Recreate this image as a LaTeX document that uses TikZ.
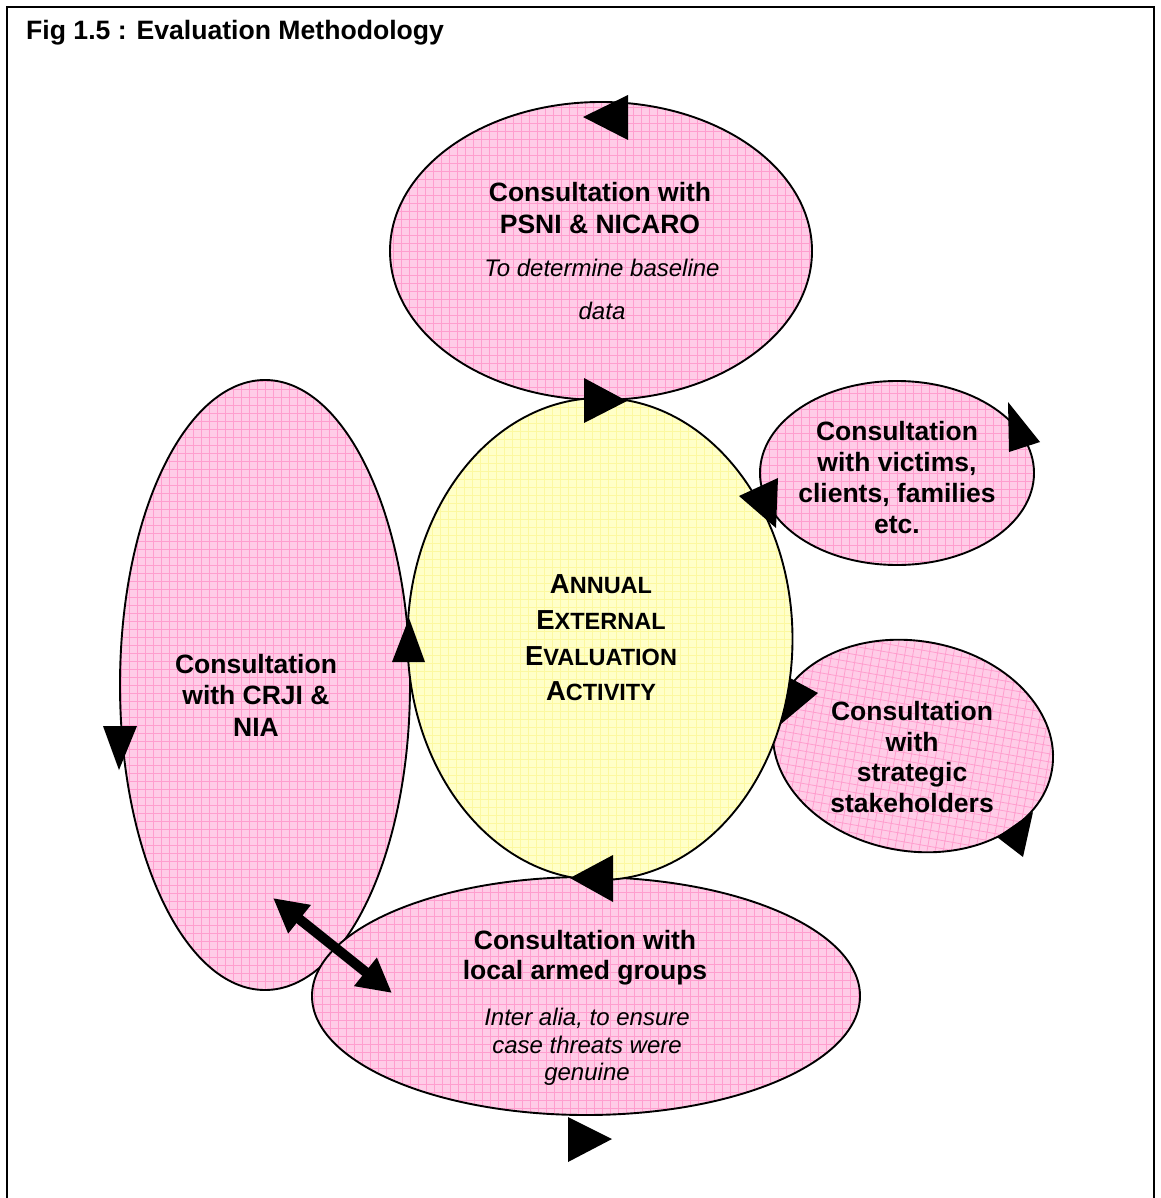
\documentclass[tikz,border=0pt]{standalone}
\usepackage{fontspec}
\setmainfont{Liberation Sans}
\usetikzlibrary{shapes.geometric,arrows.meta}

\definecolor{pinkfill}{RGB}{255,204,231}
\definecolor{pinkgrid}{RGB}{255,158,206}
\definecolor{yellowfill}{RGB}{255,255,200}
\definecolor{yellowgrid}{RGB}{252,248,160}

% first letter of a small-caps word at full size, the rest smaller
\newcommand\capsword[2]{{\fontsize{27.5pt}{35.7pt}\selectfont #1}#2}

\tikzset{
  bubble/.style={ellipse, draw=black, line width=1.9pt, inner sep=0pt,
    fill=#1fill,
    path picture={\draw[#1grid, line width=0.8pt]
      (path picture bounding box.south west) grid[step=8pt]
      (path picture bounding box.north east);}},
  % same look, for a tilted bubble: the grid stays level with the page
  tiltbubble/.style 2 args={ellipse, draw=black, line width=1.9pt, inner sep=0pt,
    fill=#1fill, rotate=#2,
    path picture={\draw[#1grid, line width=0.8pt,
      shift={(path picture bounding box.center)}, rotate=-#2]
      (-200pt,-200pt) grid[step=8pt] (200pt,200pt);}},
  headtext/.style={align=center, inner sep=0pt,
    font=\bfseries\fontsize{26.5pt}{#1pt}\selectfont},
  notetext/.style={align=center, inner sep=0pt,
    font=\itshape\fontsize{24pt}{#1pt}\selectfont},
  capstext/.style={align=center, inner sep=0pt,
    font=\bfseries\fontsize{23.5pt}{35.7pt}\selectfont},
  frame/.style={line width=1.8pt, draw=black},
  head/.style={fill=black},
  twoway/.style={line width=10pt,
    {Triangle[length=34pt,width=34pt]}-{Triangle[length=34pt,width=34pt]}},
}

\begin{document}
\begin{tikzpicture}[x=1pt,y=-1pt]
\useasboundingbox (0,0) rectangle (1160,1198);

% outer frame, open at the bottom
\draw[frame] (7,1198) -- (7,7) -- (1154,7) -- (1154,1198);
\node[anchor=base west, inner sep=0pt,
  font=\bfseries\fontsize{26.6pt}{30pt}\selectfont] (title) at (26,40)
  {Fig 1.5 : Evaluation Methodology};

% consultation bubbles
\node[bubble=pink, minimum width=290pt, minimum height=610pt] (crji) at (265,685) {};
\node[bubble=pink, minimum width=548pt, minimum height=238pt] (armed) at (586,996) {};
\node[bubble=pink, minimum width=422pt, minimum height=298pt] (psni) at (601,251) {};
\node[bubble=pink, minimum width=274pt, minimum height=184pt] (victims) at (897,473) {};
\node[tiltbubble={pink}{-10}, minimum width=282pt, minimum height=210pt] (strategic) at (913,746) {};
\node[bubble=yellow, minimum width=385pt, minimum height=482pt] (activity) at (600,639) {};

% labels
\node[headtext=32] (psniT) at (600,208) {Consultation with\\PSNI \& NICARO};
\node[notetext=43] (psniN) at (602,289) {To determine baseline\\data};
\node[headtext=31] (victimsT) at (897,478) {Consultation\\with victims,\\clients, families\\etc.};
\node[capstext] (activityT) at (601,638)
  {\capsword{A}{NNUAL}\\\capsword{E}{XTERNAL}\\\capsword{E}{VALUATION}\\\capsword{A}{CTIVITY}};
\node[headtext=31.5] (crjiT) at (256,695) {Consultation\\with CRJI \&\\NIA};
\node[headtext=30.7] (strategicT) at (912,757) {Consultation\\with\\strategic\\stakeholders};
\node[headtext=30] (armedT) at (585,958) {Consultation with\\local armed groups};
\node[notetext=27.5] (armedN) at (587,1047) {Inter alia, to ensure\\case threats were\\genuine};

% cycle arrowheads on the bubble outlines
\fill[head] (583,117) -- (628,95) -- (628,140) -- cycle;
\fill[head] (627,401) -- (584,378) -- (584,423) -- cycle;
\fill[head] (1008,402) -- (1040,442) -- (1009,452) -- cycle;
\fill[head] (739,496) -- (778,478) -- (776,528) -- cycle;
\fill[head] (409,618) -- (392,662) -- (425,662) -- cycle;
\fill[head] (790,678) -- (818,693) -- (781,724) -- cycle;
\fill[head] (1033,812) -- (997,837) -- (1023,857) -- cycle;
\fill[head] (103,726) -- (137,726) -- (119,770) -- cycle;
\fill[head] (570,878) -- (613,855) -- (613,902) -- cycle;
\fill[head] (568,1117) -- (568,1162) -- (612,1139) -- cycle;

% two-way link between the CRJI and armed-groups bubbles
\coordinate (linkA) at (273,898);
\coordinate (linkB) at (392,993);
\draw[twoway] (linkA) -- (linkB);
\end{tikzpicture}
\end{document}
